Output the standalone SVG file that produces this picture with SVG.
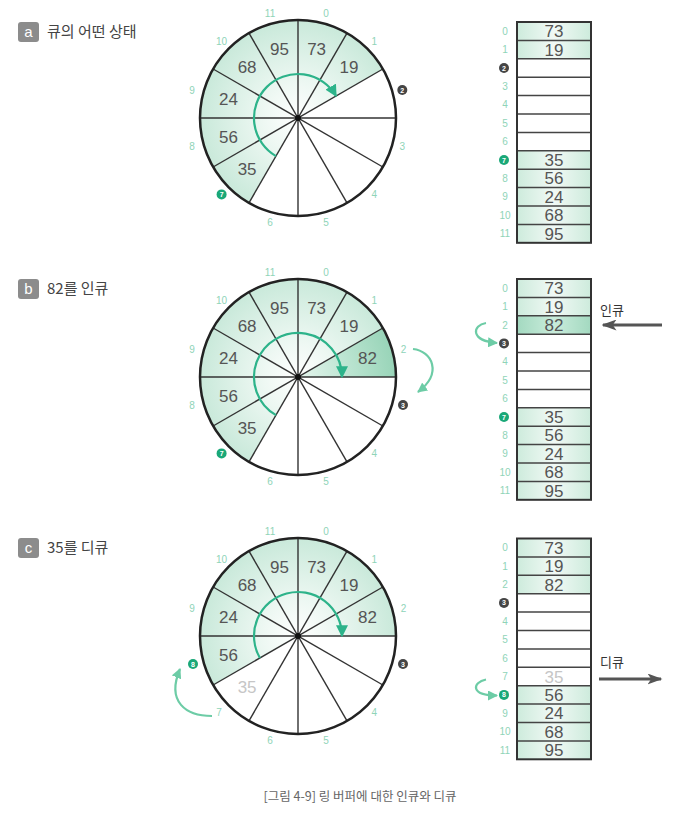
<svg xmlns="http://www.w3.org/2000/svg" width="675" height="815" viewBox="0 0 675 815">
<style>
.bg{fill:#ffffff}
.ring{fill:none;stroke:#222;stroke-width:2.5}
.spoke{stroke:#333;stroke-width:1.4}
.val{font-family:"Liberation Sans","Noto Sans CJK KR",sans-serif;font-size:17px;fill:#555;text-anchor:middle}
.ghost{fill:#c6c6c6}
.idx{font-family:"Liberation Sans",sans-serif;font-size:10px;fill:#8fd4b8;text-anchor:middle}
.mk{font-family:"Liberation Sans",sans-serif;font-size:7px;fill:#fff;text-anchor:middle;font-weight:bold}
.mdark{fill:#454545}
.mteal{fill:#1aa878}
.arc{fill:none;stroke:#2db38a;stroke-width:2.2}
.curve{fill:none;stroke:#6dcca6;stroke-width:2.2}
.bigarrow{stroke:#555;stroke-width:3}
.title{font-family:"Noto Sans CJK KR","Liberation Sans",sans-serif;font-size:15px;fill:#444}
.badge{fill:#8c8c8c}
.badgetxt{font-family:"Liberation Sans",sans-serif;font-size:15px;fill:#fff;text-anchor:middle}
.lbl{font-family:"Noto Sans CJK KR","Liberation Sans",sans-serif;font-size:13px;fill:#333}
.cap{font-family:"Noto Sans CJK KR","Liberation Sans",sans-serif;font-size:12.5px;fill:#666;text-anchor:middle}
.frame{fill:none;stroke:#333;stroke-width:2}
.row{stroke:#444;stroke-width:1.5}
.cell{fill:url(#cellG)}
.cellDark{fill:url(#cellD)}
</style>
<defs>
<radialGradient id="secG" gradientUnits="userSpaceOnUse" cx="0" cy="0" r="98">
<stop offset="0" stop-color="#ffffff"/>
<stop offset="0.35" stop-color="#eef8f3"/>
<stop offset="1" stop-color="#c9e9da"/>
</radialGradient>
<radialGradient id="secD" gradientUnits="userSpaceOnUse" cx="0" cy="0" r="98">
<stop offset="0" stop-color="#e6f5ee"/>
<stop offset="0.5" stop-color="#bde5d2"/>
<stop offset="1" stop-color="#98d4b8"/>
</radialGradient>
<linearGradient id="cellG" x1="0" y1="0" x2="1" y2="0">
<stop offset="0" stop-color="#cdebdc"/>
<stop offset="0.5" stop-color="#f1f9f5"/>
<stop offset="1" stop-color="#cdebdc"/>
</linearGradient>
<linearGradient id="cellD" x1="0" y1="0" x2="1" y2="0">
<stop offset="0" stop-color="#a3d9c0"/>
<stop offset="0.5" stop-color="#c9ecdb"/>
<stop offset="1" stop-color="#a3d9c0"/>
</linearGradient>
<marker id="ahArc" viewBox="0 0 10 10" refX="9" refY="5" markerWidth="12" markerHeight="12" markerUnits="userSpaceOnUse" orient="auto">
<path d="M0,0 L10,5 L0,10 z" fill="#2db38a"/>
</marker>
<marker id="ahCurve" viewBox="0 0 10 10" refX="9" refY="5" markerWidth="10" markerHeight="10" markerUnits="userSpaceOnUse" orient="auto">
<path d="M0,0 L10,5 L0,10 z" fill="#6dcca6"/>
</marker>
<marker id="ahBig" viewBox="0 0 10 10" refX="9" refY="5" markerWidth="15" markerHeight="11" markerUnits="userSpaceOnUse" orient="auto" preserveAspectRatio="none">
<path d="M0,0 L10,5 L0,10 L2.5,5 z" fill="#555"/>
</marker>
<g id="spokes">
<line class="spoke" x1="0" y1="-98" x2="0" y2="98"/>
<line class="spoke" x1="49" y1="-84.87" x2="-49" y2="84.87"/>
<line class="spoke" x1="84.87" y1="-49" x2="-84.87" y2="49"/>
<line class="spoke" x1="98" y1="0" x2="-98" y2="0"/>
<line class="spoke" x1="84.87" y1="49" x2="-84.87" y2="-49"/>
<line class="spoke" x1="49" y1="84.87" x2="-49" y2="-84.87"/>
</g>
</defs>
<rect class="bg" x="0" y="0" width="675" height="815"/>

<!-- ===== Section a ===== -->
<g id="title-a">
<rect class="badge" x="18" y="22" width="21" height="20" rx="3"/>
<text class="badgetxt" x="28.5" y="37">a</text>
<text class="title" x="47" y="37">큐의 어떤 상태</text>
</g>
<g id="ring-a" transform="translate(298,118)">
<path d="M0,0 L-49,84.87 A98,98 0 1 1 84.87,-49 Z" fill="url(#secG)"/>
<use href="#spokes"/>
<circle class="ring" cx="0" cy="0" r="98"/>
<circle cx="0" cy="0" r="3" fill="#111"/>
<path class="arc" d="M-22,38.1 A44,44 0 1 1 38.1,-22" marker-end="url(#ahArc)"/>
<text class="val" x="18.6" y="-63.5">73</text>
<text class="val" x="50.9" y="-44.9">19</text>
<text class="val" x="-50.9" y="56.9">35</text>
<text class="val" x="-69.5" y="24.6">56</text>
<text class="val" x="-69.5" y="-12.6">24</text>
<text class="val" x="-50.9" y="-44.9">68</text>
<text class="val" x="-18.6" y="-63.5">95</text>
<text class="idx" x="28" y="-100.8">0</text>
<text class="idx" x="76.4" y="-72.9">1</text>
<circle class="mdark" cx="104.3" cy="-28" r="5"/><text class="mk" x="104.3" y="-25.5">2</text>
<text class="idx" x="104.3" y="31.5">3</text>
<text class="idx" x="76.4" y="79.9">4</text>
<text class="idx" x="28" y="107.8">5</text>
<text class="idx" x="-28" y="107.8">6</text>
<circle class="mteal" cx="-76.4" cy="76.4" r="5"/><text class="mk" x="-76.4" y="78.9">7</text>
<text class="idx" x="-106" y="31.5">8</text>
<text class="idx" x="-106" y="-24.5">9</text>
<text class="idx" x="-76.4" y="-72.9">10</text>
<text class="idx" x="-28" y="-100.8">11</text>
</g>
<g id="array-a" transform="translate(0,22)">
<rect class="cell" x="517" y="0" width="74" height="36.8"/>
<rect class="cell" x="517" y="128.8" width="74" height="92"/>
<line class="row" x1="517" y1="18.4" x2="591" y2="18.4"/>
<line class="row" x1="517" y1="36.8" x2="591" y2="36.8"/>
<line class="row" x1="517" y1="55.2" x2="591" y2="55.2"/>
<line class="row" x1="517" y1="73.6" x2="591" y2="73.6"/>
<line class="row" x1="517" y1="92" x2="591" y2="92"/>
<line class="row" x1="517" y1="110.4" x2="591" y2="110.4"/>
<line class="row" x1="517" y1="128.8" x2="591" y2="128.8"/>
<line class="row" x1="517" y1="147.2" x2="591" y2="147.2"/>
<line class="row" x1="517" y1="165.6" x2="591" y2="165.6"/>
<line class="row" x1="517" y1="184" x2="591" y2="184"/>
<line class="row" x1="517" y1="202.4" x2="591" y2="202.4"/>
<rect class="frame" x="517" y="0" width="74" height="220.8"/>
<text class="val" x="554" y="15.2">73</text>
<text class="val" x="554" y="33.6">19</text>
<text class="val" x="554" y="144">35</text>
<text class="val" x="554" y="162.4">56</text>
<text class="val" x="554" y="180.8">24</text>
<text class="val" x="554" y="199.2">68</text>
<text class="val" x="554" y="217.6">95</text>
<text class="idx" x="505" y="12.7">0</text>
<text class="idx" x="505" y="31.1">1</text>
<circle class="mdark" cx="504" cy="46" r="5"/><text class="mk" x="504" y="48.5">2</text>
<text class="idx" x="505" y="67.9">3</text>
<text class="idx" x="505" y="86.3">4</text>
<text class="idx" x="505" y="104.7">5</text>
<text class="idx" x="505" y="123.1">6</text>
<circle class="mteal" cx="504" cy="138" r="5"/><text class="mk" x="504" y="140.5">7</text>
<text class="idx" x="505" y="159.9">8</text>
<text class="idx" x="505" y="178.3">9</text>
<text class="idx" x="505" y="196.7">10</text>
<text class="idx" x="505" y="215.1">11</text>
</g>

<!-- ===== Section b ===== -->
<g id="title-b">
<rect class="badge" x="18" y="279" width="21" height="20" rx="3"/>
<text class="badgetxt" x="28.5" y="294">b</text>
<text class="title" x="47" y="294">82를 인큐</text>
</g>
<g id="ring-b" transform="translate(298,377)">
<path d="M0,0 L-49,84.87 A98,98 0 1 1 98,0 Z" fill="url(#secG)"/>
<path d="M0,0 L84.87,-49 A98,98 0 0 1 98,0 Z" fill="url(#secD)"/>
<use href="#spokes"/>
<circle class="ring" cx="0" cy="0" r="98"/>
<circle cx="0" cy="0" r="3" fill="#111"/>
<path class="arc" d="M-22,38.1 A44,44 0 1 1 44,0" marker-end="url(#ahArc)"/>
<text class="val" x="18.6" y="-63.5">73</text>
<text class="val" x="50.9" y="-44.9">19</text>
<text class="val" x="69.5" y="-12.6">82</text>
<text class="val" x="-50.9" y="56.9">35</text>
<text class="val" x="-69.5" y="24.6">56</text>
<text class="val" x="-69.5" y="-12.6">24</text>
<text class="val" x="-50.9" y="-44.9">68</text>
<text class="val" x="-18.6" y="-63.5">95</text>
<text class="idx" x="28" y="-100.8">0</text>
<text class="idx" x="76.4" y="-72.9">1</text>
<text class="idx" x="105.5" y="-24.5">2</text>
<circle class="mdark" cx="105" cy="28" r="5"/><text class="mk" x="105" y="30.5">3</text>
<text class="idx" x="76.4" y="79.9">4</text>
<text class="idx" x="28" y="107.8">5</text>
<text class="idx" x="-28" y="107.8">6</text>
<circle class="mteal" cx="-76.4" cy="76.4" r="5"/><text class="mk" x="-76.4" y="78.9">7</text>
<text class="idx" x="-106" y="31.5">8</text>
<text class="idx" x="-106" y="-24.5">9</text>
<text class="idx" x="-76.4" y="-72.9">10</text>
<text class="idx" x="-28" y="-100.8">11</text>
<path class="curve" d="M115,-28 C134,-26 145,-4 120,15" marker-end="url(#ahCurve)"/>
</g>
<g id="array-b" transform="translate(0,279)">
<rect class="cell" x="517" y="0" width="74" height="36.8"/>
<rect class="cellDark" x="517" y="36.8" width="74" height="18.4"/>
<rect class="cell" x="517" y="128.8" width="74" height="92"/>
<line class="row" x1="517" y1="18.4" x2="591" y2="18.4"/>
<line class="row" x1="517" y1="36.8" x2="591" y2="36.8"/>
<line class="row" x1="517" y1="55.2" x2="591" y2="55.2"/>
<line class="row" x1="517" y1="73.6" x2="591" y2="73.6"/>
<line class="row" x1="517" y1="92" x2="591" y2="92"/>
<line class="row" x1="517" y1="110.4" x2="591" y2="110.4"/>
<line class="row" x1="517" y1="128.8" x2="591" y2="128.8"/>
<line class="row" x1="517" y1="147.2" x2="591" y2="147.2"/>
<line class="row" x1="517" y1="165.6" x2="591" y2="165.6"/>
<line class="row" x1="517" y1="184" x2="591" y2="184"/>
<line class="row" x1="517" y1="202.4" x2="591" y2="202.4"/>
<rect class="frame" x="517" y="0" width="74" height="220.8"/>
<text class="val" x="554" y="15.2">73</text>
<text class="val" x="554" y="33.6">19</text>
<text class="val" x="554" y="52">82</text>
<text class="val" x="554" y="144">35</text>
<text class="val" x="554" y="162.4">56</text>
<text class="val" x="554" y="180.8">24</text>
<text class="val" x="554" y="199.2">68</text>
<text class="val" x="554" y="217.6">95</text>
<text class="idx" x="505" y="12.7">0</text>
<text class="idx" x="505" y="31.1">1</text>
<text class="idx" x="505" y="49.5">2</text>
<circle class="mdark" cx="504" cy="64.4" r="5"/><text class="mk" x="504" y="66.9">3</text>
<text class="idx" x="505" y="86.3">4</text>
<text class="idx" x="505" y="104.7">5</text>
<text class="idx" x="505" y="123.1">6</text>
<circle class="mteal" cx="504" cy="138" r="5"/><text class="mk" x="504" y="140.5">7</text>
<text class="idx" x="505" y="159.9">8</text>
<text class="idx" x="505" y="178.3">9</text>
<text class="idx" x="505" y="196.7">10</text>
<text class="idx" x="505" y="215.1">11</text>
<path class="curve" d="M486,44 C472,46 470,62 497,64" marker-end="url(#ahCurve)"/>
</g>
<g id="enqueue">
<text class="lbl" x="600" y="315">인큐</text>
<line class="bigarrow" x1="662" y1="325" x2="603" y2="325" marker-end="url(#ahBig)"/>
</g>

<!-- ===== Section c ===== -->
<g id="title-c">
<rect class="badge" x="18" y="538" width="21" height="20" rx="3"/>
<text class="badgetxt" x="28.5" y="553">c</text>
<text class="title" x="47" y="553">35를 디큐</text>
</g>
<g id="ring-c" transform="translate(298,636)">
<path d="M0,0 L-84.87,49 A98,98 0 1 1 98,0 Z" fill="url(#secG)"/>
<use href="#spokes"/>
<circle class="ring" cx="0" cy="0" r="98"/>
<circle cx="0" cy="0" r="3" fill="#111"/>
<path class="arc" d="M-38.1,22 A44,44 0 1 1 44,0" marker-end="url(#ahArc)"/>
<text class="val" x="18.6" y="-63.5">73</text>
<text class="val" x="50.9" y="-44.9">19</text>
<text class="val" x="69.5" y="-12.6">82</text>
<text class="val ghost" x="-50.9" y="56.9">35</text>
<text class="val" x="-69.5" y="24.6">56</text>
<text class="val" x="-69.5" y="-12.6">24</text>
<text class="val" x="-50.9" y="-44.9">68</text>
<text class="val" x="-18.6" y="-63.5">95</text>
<text class="idx" x="28" y="-100.8">0</text>
<text class="idx" x="76.4" y="-72.9">1</text>
<text class="idx" x="105.5" y="-24.5">2</text>
<circle class="mdark" cx="105" cy="28" r="5"/><text class="mk" x="105" y="30.5">3</text>
<text class="idx" x="76.4" y="79.9">4</text>
<text class="idx" x="28" y="107.8">5</text>
<text class="idx" x="-28" y="107.8">6</text>
<text class="idx" x="-79" y="80">7</text>
<circle class="mteal" cx="-105" cy="28" r="5"/><text class="mk" x="-105" y="30.5">8</text>
<text class="idx" x="-106" y="-24.5">9</text>
<text class="idx" x="-76.4" y="-72.9">10</text>
<text class="idx" x="-28" y="-100.8">11</text>
<path class="curve" d="M-86,80 C-112,80 -132,66 -118,33" marker-end="url(#ahCurve)"/>
</g>
<g id="array-c" transform="translate(0,538.5)">
<rect class="cell" x="517" y="0" width="74" height="55.2"/>
<rect class="cell" x="517" y="147.2" width="74" height="73.6"/>
<line class="row" x1="517" y1="18.4" x2="591" y2="18.4"/>
<line class="row" x1="517" y1="36.8" x2="591" y2="36.8"/>
<line class="row" x1="517" y1="55.2" x2="591" y2="55.2"/>
<line class="row" x1="517" y1="73.6" x2="591" y2="73.6"/>
<line class="row" x1="517" y1="92" x2="591" y2="92"/>
<line class="row" x1="517" y1="110.4" x2="591" y2="110.4"/>
<line class="row" x1="517" y1="128.8" x2="591" y2="128.8"/>
<line class="row" x1="517" y1="147.2" x2="591" y2="147.2"/>
<line class="row" x1="517" y1="165.6" x2="591" y2="165.6"/>
<line class="row" x1="517" y1="184" x2="591" y2="184"/>
<line class="row" x1="517" y1="202.4" x2="591" y2="202.4"/>
<rect class="frame" x="517" y="0" width="74" height="220.8"/>
<text class="val" x="554" y="15.2">73</text>
<text class="val" x="554" y="33.6">19</text>
<text class="val" x="554" y="52">82</text>
<text class="val ghost" x="554" y="144">35</text>
<text class="val" x="554" y="162.4">56</text>
<text class="val" x="554" y="180.8">24</text>
<text class="val" x="554" y="199.2">68</text>
<text class="val" x="554" y="217.6">95</text>
<text class="idx" x="505" y="12.7">0</text>
<text class="idx" x="505" y="31.1">1</text>
<text class="idx" x="505" y="49.5">2</text>
<circle class="mdark" cx="504" cy="64.4" r="5"/><text class="mk" x="504" y="66.9">3</text>
<text class="idx" x="505" y="86.3">4</text>
<text class="idx" x="505" y="104.7">5</text>
<text class="idx" x="505" y="123.1">6</text>
<text class="idx" x="505" y="141.5">7</text>
<circle class="mteal" cx="504" cy="156.4" r="5"/><text class="mk" x="504" y="158.9">8</text>
<text class="idx" x="505" y="178.3">9</text>
<text class="idx" x="505" y="196.7">10</text>
<text class="idx" x="505" y="215.1">11</text>
<path class="curve" d="M486,141 C472,144 470,157 497,157" marker-end="url(#ahCurve)"/>
</g>
<g id="dequeue">
<text class="lbl" x="600" y="667">디큐</text>
<line class="bigarrow" x1="599" y1="679" x2="661" y2="679" marker-end="url(#ahBig)"/>
</g>

<text class="cap" x="360" y="801">[그림 4-9] 링 버퍼에 대한 인큐와 디큐</text>
</svg>
